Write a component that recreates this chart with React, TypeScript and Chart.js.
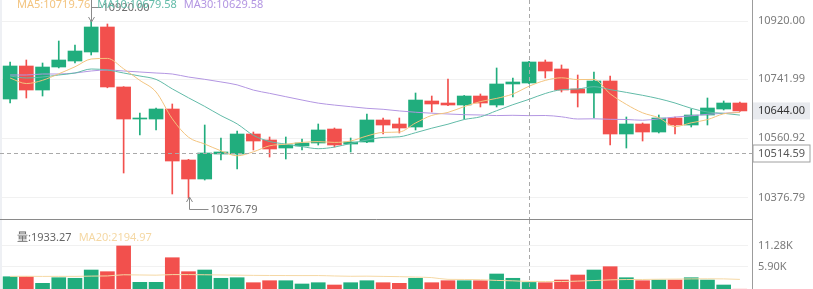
import React, { useEffect, useRef } from 'react';
import { Chart, registerables } from 'chart.js';

Chart.register(...registerables);

// ---- candle data (oldest → newest) ----
const opens = [10680.6, 10781.9, 10708.2, 10778.8, 10797.2, 10824.9, 10901.6, 10717.5, 10619.2, 10619.2, 10649.9, 10493.4, 10435.1, 10511.8, 10511.8, 10573.2, 10554.8, 10530.2, 10536.4, 10545.6, 10588.5, 10542.5, 10548.7, 10616.2, 10603.9, 10594.7, 10674.5, 10668.3, 10662.2, 10689.8, 10662.2, 10726.7, 10729.7, 10794.2, 10772.7, 10711.3, 10699.0, 10735.9, 10573.2, 10603.9, 10579.3, 10622.3, 10600.8, 10631.5, 10649.9, 10668.3];
const highs = [10794.2, 10800.3, 10791.1, 10858.6, 10846.3, 10920.0, 10910.8, 10718.5, 10637.7, 10653.0, 10665.3, 10495.5, 10600.8, 10560.9, 10582.4, 10579.3, 10564.0, 10564.0, 10557.9, 10603.9, 10591.6, 10560.9, 10634.6, 10622.3, 10622.3, 10699.0, 10689.8, 10742.0, 10691.5, 10696.0, 10775.8, 10745.1, 10796.0, 10800.3, 10785.0, 10754.3, 10763.5, 10751.2, 10625.4, 10607.0, 10631.5, 10625.4, 10649.9, 10683.7, 10674.5, 10671.4];
const lows = [10668.3, 10683.7, 10689.8, 10776.0, 10791.1, 10815.7, 10715.0, 10453.5, 10570.1, 10585.5, 10389.1, 10376.79, 10432.0, 10493.4, 10465.8, 10524.1, 10502.6, 10496.5, 10524.1, 10539.4, 10533.3, 10518.0, 10546.5, 10573.2, 10576.3, 10585.5, 10640.7, 10660.0, 10619.2, 10656.1, 10656.1, 10686.8, 10727.5, 10745.1, 10702.1, 10656.1, 10622.3, 10539.4, 10530.2, 10551.7, 10576.3, 10573.2, 10594.7, 10600.8, 10646.9, 10642.5];
const closes = [10781.9, 10708.2, 10778.8, 10800.3, 10827.9, 10901.6, 10717.5, 10619.2, 10622.3, 10649.9, 10490.3, 10435.1, 10514.9, 10518.0, 10573.2, 10551.7, 10527.2, 10539.4, 10545.6, 10585.5, 10539.4, 10548.7, 10616.2, 10600.8, 10591.6, 10677.5, 10665.3, 10662.2, 10689.8, 10668.3, 10726.7, 10732.8, 10794.2, 10766.6, 10708.2, 10699.0, 10735.9, 10573.2, 10603.9, 10579.3, 10622.3, 10600.8, 10631.5, 10653.0, 10668.3, 10644.0];

// ---- moving averages ----
const ma5 = [10745, 10728, 10738, 10758, 10779.42, 10803.36, 10805.22, 10773.3, 10737.7, 10702.1, 10619.84, 10563.36, 10542.5, 10521.64, 10506.3, 10518.58, 10537.0, 10541.9, 10547.42, 10549.88, 10547.42, 10551.72, 10567.08, 10578.12, 10579.34, 10606.96, 10630.28, 10639.48, 10657.28, 10672.62, 10682.46, 10695.96, 10719.76, 10737.72, 10745.7, 10740.16, 10740.78, 10696.58, 10664.04, 10638.26, 10622.92, 10595.9, 10607.56, 10617.38, 10635.18, 10639.52];
const ma10 = [10751.2, 10745.1, 10748.1, 10754.3, 10760.4, 10772.7, 10769.6, 10760.4, 10751.2, 10740.76, 10711.6, 10684.29, 10657.9, 10629.67, 10604.2, 10569.21, 10550.18, 10542.2, 10534.53, 10528.09, 10533.0, 10544.36, 10554.49, 10562.77, 10564.61, 10577.19, 10591.0, 10603.28, 10617.7, 10625.98, 10644.71, 10663.12, 10679.58, 10697.5, 10709.16, 10711.31, 10718.37, 10709.47, 10700.88, 10691.98, 10681.54, 10668.34, 10652.07, 10640.71, 10636.72, 10631.22];
const ma30 = [10754.3, 10754.3, 10757.3, 10757.3, 10760.4, 10766.6, 10769.6, 10766.6, 10763.5, 10760.4, 10757.3, 10748.0, 10741.0, 10733.0, 10724.0, 10708.0, 10698.0, 10687.7, 10677.5, 10668.0, 10662.0, 10657.0, 10652.0, 10649.0, 10644.0, 10640.0, 10637.0, 10634.6, 10632.5, 10631.61, 10629.77, 10630.59, 10629.58, 10629.98, 10625.99, 10619.24, 10619.85, 10618.32, 10617.7, 10615.35, 10619.75, 10625.27, 10629.16, 10633.66, 10636.83, 10639.91];

// ---- volume ----
const volumes = [3400, 3400, 1715, 3150, 3000, 5120, 4690, 11280, 1970, 1970, 8270, 4690, 5120, 3000, 3150, 1870, 2380, 2380, 1540, 1870, 1280, 1870, 2380, 1870, 1715, 3000, 1870, 2380, 2380, 2380, 4100, 3000, 1933.27, 1870, 2560, 3840, 5120, 5970, 3150, 2380, 2560, 2560, 3150, 2560, 1280, 200];
const volMa20 = [3500, 3520, 3480, 3500, 3490, 3560, 3600, 3900, 3850, 3800, 3950, 3950, 3900, 3850, 3800, 3750, 3720, 3700, 3690, 3698, 3592, 3516, 3549, 3485, 3421, 3315, 3174, 2729, 2700, 2650, 2450, 2350, 2194.97, 2180, 2170, 2280, 2420, 2600, 2680, 2700, 2760, 2800, 2840, 2870, 2850, 2720];

const categories = closes.map((_, i) => String(i + 1));

// axis ticks
const priceTicks = [10376.79, 10560.92, 10741.99, 10920.0];
const volumeTicks = [5900, 11280];

// hovered candle and cursor price
const CROSS = 32;
const CROSS_PRICE = 10514.59;

// ---- style ----
const FONT = "'Noto Sans', 'Noto Sans CJK SC', sans-serif";
const UP = '#21ad7d';
const DOWN = '#f2504d';
const MA5_COLOR = '#f3c47f';
const MA10_COLOR = '#62bba8';
const MA30_COLOR = '#b396e2';
const VOL_MA_COLOR = '#f5d8a4';
const WIDTH = 813;
const MAIN_H = 220;
const VOL_H = 70;
const AXIS_W = 65;

const candleColors = closes.map((c, i) => (c >= opens[i] ? UP : DOWN));

function strokeLine(ctx: CanvasRenderingContext2D, x1: number, y1: number, x2: number, y2: number) {
  ctx.beginPath();
  ctx.moveTo(x1, y1);
  ctx.lineTo(x2, y2);
  ctx.stroke();
}

function drawFrame(chart: any) {
  const { ctx, chartArea, scales } = chart;
  const axisX = chartArea.right + 4.5;
  ctx.fillStyle = '#eef0f4';
  ctx.fillRect(0, 0, 2, chart.height);
  ctx.strokeStyle = '#9c9c9c';
  ctx.lineWidth = 1;
  strokeLine(ctx, axisX, 0, axisX, chart.height);
  const cx = Math.round(scales.x.getPixelForValue(CROSS)) + 0.5;
  ctx.setLineDash([4, 3]);
  ctx.strokeStyle = '#a9a9a9';
  strokeLine(ctx, cx, 0, cx, chart.height);
  ctx.setLineDash([]);
  return axisX;
}

const mainOverlay = {
  id: 'mainOverlay',
  afterDraw(chart: any) {
    const { ctx, scales } = chart;
    const { x, y } = scales;
    ctx.save();
    const axisX = drawFrame(chart);

    // pane separator
    ctx.strokeStyle = '#8a8a8a';
    strokeLine(ctx, 0, chart.height - 0.5, axisX, chart.height - 0.5);

    // horizontal cursor line
    const cy = Math.round(y.getPixelForValue(CROSS_PRICE)) + 0.5;
    ctx.setLineDash([4, 3]);
    ctx.strokeStyle = '#a9a9a9';
    strokeLine(ctx, 0, cy, axisX, cy);
    ctx.setLineDash([]);

    ctx.font = `11px ${FONT}`;
    ctx.textAlign = 'left';
    ctx.textBaseline = 'middle';

    // last price tag
    const last = closes[closes.length - 1];
    const ly = y.getPixelForValue(last);
    ctx.fillStyle = '#e8eaee';
    ctx.fillRect(axisX + 0.5, ly - 8.5, 57, 17);
    ctx.fillStyle = '#333';
    ctx.fillText(last.toFixed(2), axisX + 5.5, ly);

    // cursor price tag
    ctx.fillStyle = '#fff';
    ctx.fillRect(axisX + 0.5, cy - 8.5, 57, 17);
    ctx.strokeStyle = '#a0a0a0';
    ctx.strokeRect(axisX + 0.5, cy - 8.5, 57, 17);
    ctx.fillStyle = '#555';
    ctx.fillText(CROSS_PRICE.toFixed(2), axisX + 5.5, cy);

    // highest high / lowest low markers
    ctx.strokeStyle = '#8a8a8a';
    ctx.fillStyle = '#6e6e6e';
    const hiVal = Math.max(...highs);
    const hiIdx = highs.indexOf(hiVal);
    const hx = Math.round(x.getPixelForValue(hiIdx)) + 0.5;
    const hTip = y.getPixelForValue(hiVal) + 1;
    strokeLine(ctx, hx, -4, hx, hTip);
    strokeLine(ctx, hx - 3, hTip - 5, hx, hTip);
    strokeLine(ctx, hx + 3, hTip - 5, hx, hTip);
    const hLab = Math.round(hTip - 15) + 0.5;
    strokeLine(ctx, hx, hLab, hx + 10, hLab);
    ctx.fillText(hiVal.toFixed(2), hx + 11, hLab);

    const loVal = Math.min(...lows);
    const loIdx = lows.indexOf(loVal);
    const lx = Math.round(x.getPixelForValue(loIdx)) + 0.5;
    const lTip = y.getPixelForValue(loVal) - 1;
    const lLab = Math.round(lTip + 12) + 0.5;
    strokeLine(ctx, lx, lTip, lx, lLab);
    strokeLine(ctx, lx - 3, lTip + 5, lx, lTip);
    strokeLine(ctx, lx + 3, lTip + 5, lx, lTip);
    strokeLine(ctx, lx, lLab, lx + 19, lLab);
    ctx.fillText(loVal.toFixed(2), lx + 21, lLab);

    // moving average legend
    ctx.textBaseline = 'alphabetic';
    let tx = 17;
    const items: [string, string][] = [
      [`MA5:${ma5[CROSS].toFixed(2)}`, MA5_COLOR],
      [`MA10:${ma10[CROSS].toFixed(2)}`, MA10_COLOR],
      [`MA30:${ma30[CROSS].toFixed(2)}`, MA30_COLOR],
    ];
    for (const [txt, col] of items) {
      ctx.fillStyle = col;
      ctx.fillText(txt, tx, 8);
      tx += ctx.measureText(txt).width + 7;
    }
    ctx.restore();
  },
};

const volOverlay = {
  id: 'volOverlay',
  afterDraw(chart: any) {
    const { ctx } = chart;
    ctx.save();
    drawFrame(chart);
    ctx.font = `11px ${FONT}`;
    ctx.textBaseline = 'middle';
    ctx.textAlign = 'left';
    const a = `量:${volumes[CROSS].toFixed(2)}`;
    ctx.fillStyle = '#666';
    ctx.fillText(a, 17, 18);
    ctx.fillStyle = VOL_MA_COLOR;
    ctx.fillText(`MA20:${volMa20[CROSS].toFixed(2)}`, 17 + ctx.measureText(a).width + 7, 18);
    ctx.restore();
  },
};

function fixAxis(s: any) {
  s.width = AXIS_W;
  s.paddingTop = 0;
  s.paddingBottom = 0;
}

function maLine(label: string, data: number[], color: string) {
  return {
    type: 'line' as const,
    label,
    data,
    borderColor: color,
    borderWidth: 1,
    pointRadius: 0,
    cubicInterpolationMode: 'monotone' as const,
    order: 0,
  };
}

export default function App() {
  const mainRef = useRef<HTMLCanvasElement>(null);
  const volRef = useRef<HTMLCanvasElement>(null);

  useEffect(() => {
    const main = new Chart(mainRef.current!, {
      type: 'bar',
      data: {
        labels: categories,
        datasets: [
          maLine('MA5', ma5, MA5_COLOR),
          maLine('MA10', ma10, MA10_COLOR),
          maLine('MA30', ma30, MA30_COLOR),
          {
            type: 'bar',
            label: 'body',
            data: opens.map((o, i) => [o, closes[i]]) as any,
            backgroundColor: candleColors,
            barThickness: 14,
            grouped: false,
            order: 1,
          },
          {
            type: 'bar',
            label: 'wick',
            data: lows.map((l, i) => [l, highs[i]]) as any,
            backgroundColor: candleColors,
            barThickness: 1,
            grouped: false,
            order: 2,
          },
        ],
      },
      options: {
        responsive: false,
        animation: false,
        events: [],
        layout: { padding: { left: 2, right: 0, top: 0, bottom: 0 } },
        plugins: { legend: { display: false }, tooltip: { enabled: false } },
        scales: {
          x: { display: false, offset: true },
          y: {
            position: 'right',
            min: 10309.27,
            max: 10984.45,
            grid: { color: '#f1f1f1', drawTicks: false },
            border: { display: false },
            ticks: {
              color: '#7b7b7b',
              padding: 10,
              font: { size: 11, family: FONT },
              callback: (v: any) => Number(v).toFixed(2),
            },
            afterBuildTicks: (s: any) => {
              s.ticks = priceTicks.map((value) => ({ value }));
            },
            afterFit: fixAxis,
          },
        },
      },
      plugins: [mainOverlay],
    });

    const vol = new Chart(volRef.current!, {
      type: 'bar',
      data: {
        labels: categories,
        datasets: [
          {
            type: 'line',
            label: 'MA20',
            data: volMa20,
            borderColor: VOL_MA_COLOR,
            borderWidth: 1,
            pointRadius: 0,
            cubicInterpolationMode: 'monotone',
            order: 0,
          },
          {
            type: 'bar',
            label: '量',
            data: volumes,
            backgroundColor: candleColors,
            barThickness: 14,
            order: 1,
          },
        ],
      },
      options: {
        responsive: false,
        animation: false,
        events: [],
        layout: { padding: { left: 2, right: 0, top: 0, bottom: 0 } },
        plugins: { legend: { display: false }, tooltip: { enabled: false } },
        scales: {
          x: { display: false, offset: true },
          y: {
            position: 'right',
            min: 0,
            max: 17934,
            grid: { color: '#f1f1f1', drawTicks: false },
            border: { display: false },
            ticks: {
              color: '#7b7b7b',
              padding: 10,
              font: { size: 11, family: FONT },
              callback: (v: any) => (Number(v) / 1000).toFixed(2) + 'K',
            },
            afterBuildTicks: (s: any) => {
              s.ticks = volumeTicks.map((value) => ({ value }));
            },
            afterFit: fixAxis,
          },
        },
      },
      plugins: [volOverlay],
    });

    return () => {
      main.destroy();
      vol.destroy();
    };
  }, []);

  return (
    <div
      style={{
        position: 'fixed',
        left: 0,
        top: 0,
        width: WIDTH,
        height: 289,
        overflow: 'hidden',
        background: '#fff',
      }}
    >
      <canvas ref={mainRef} width={WIDTH} height={MAIN_H} style={{ display: 'block', width: WIDTH, height: MAIN_H }} />
      <canvas ref={volRef} width={WIDTH} height={VOL_H} style={{ display: 'block', width: WIDTH, height: VOL_H }} />
    </div>
  );
}
